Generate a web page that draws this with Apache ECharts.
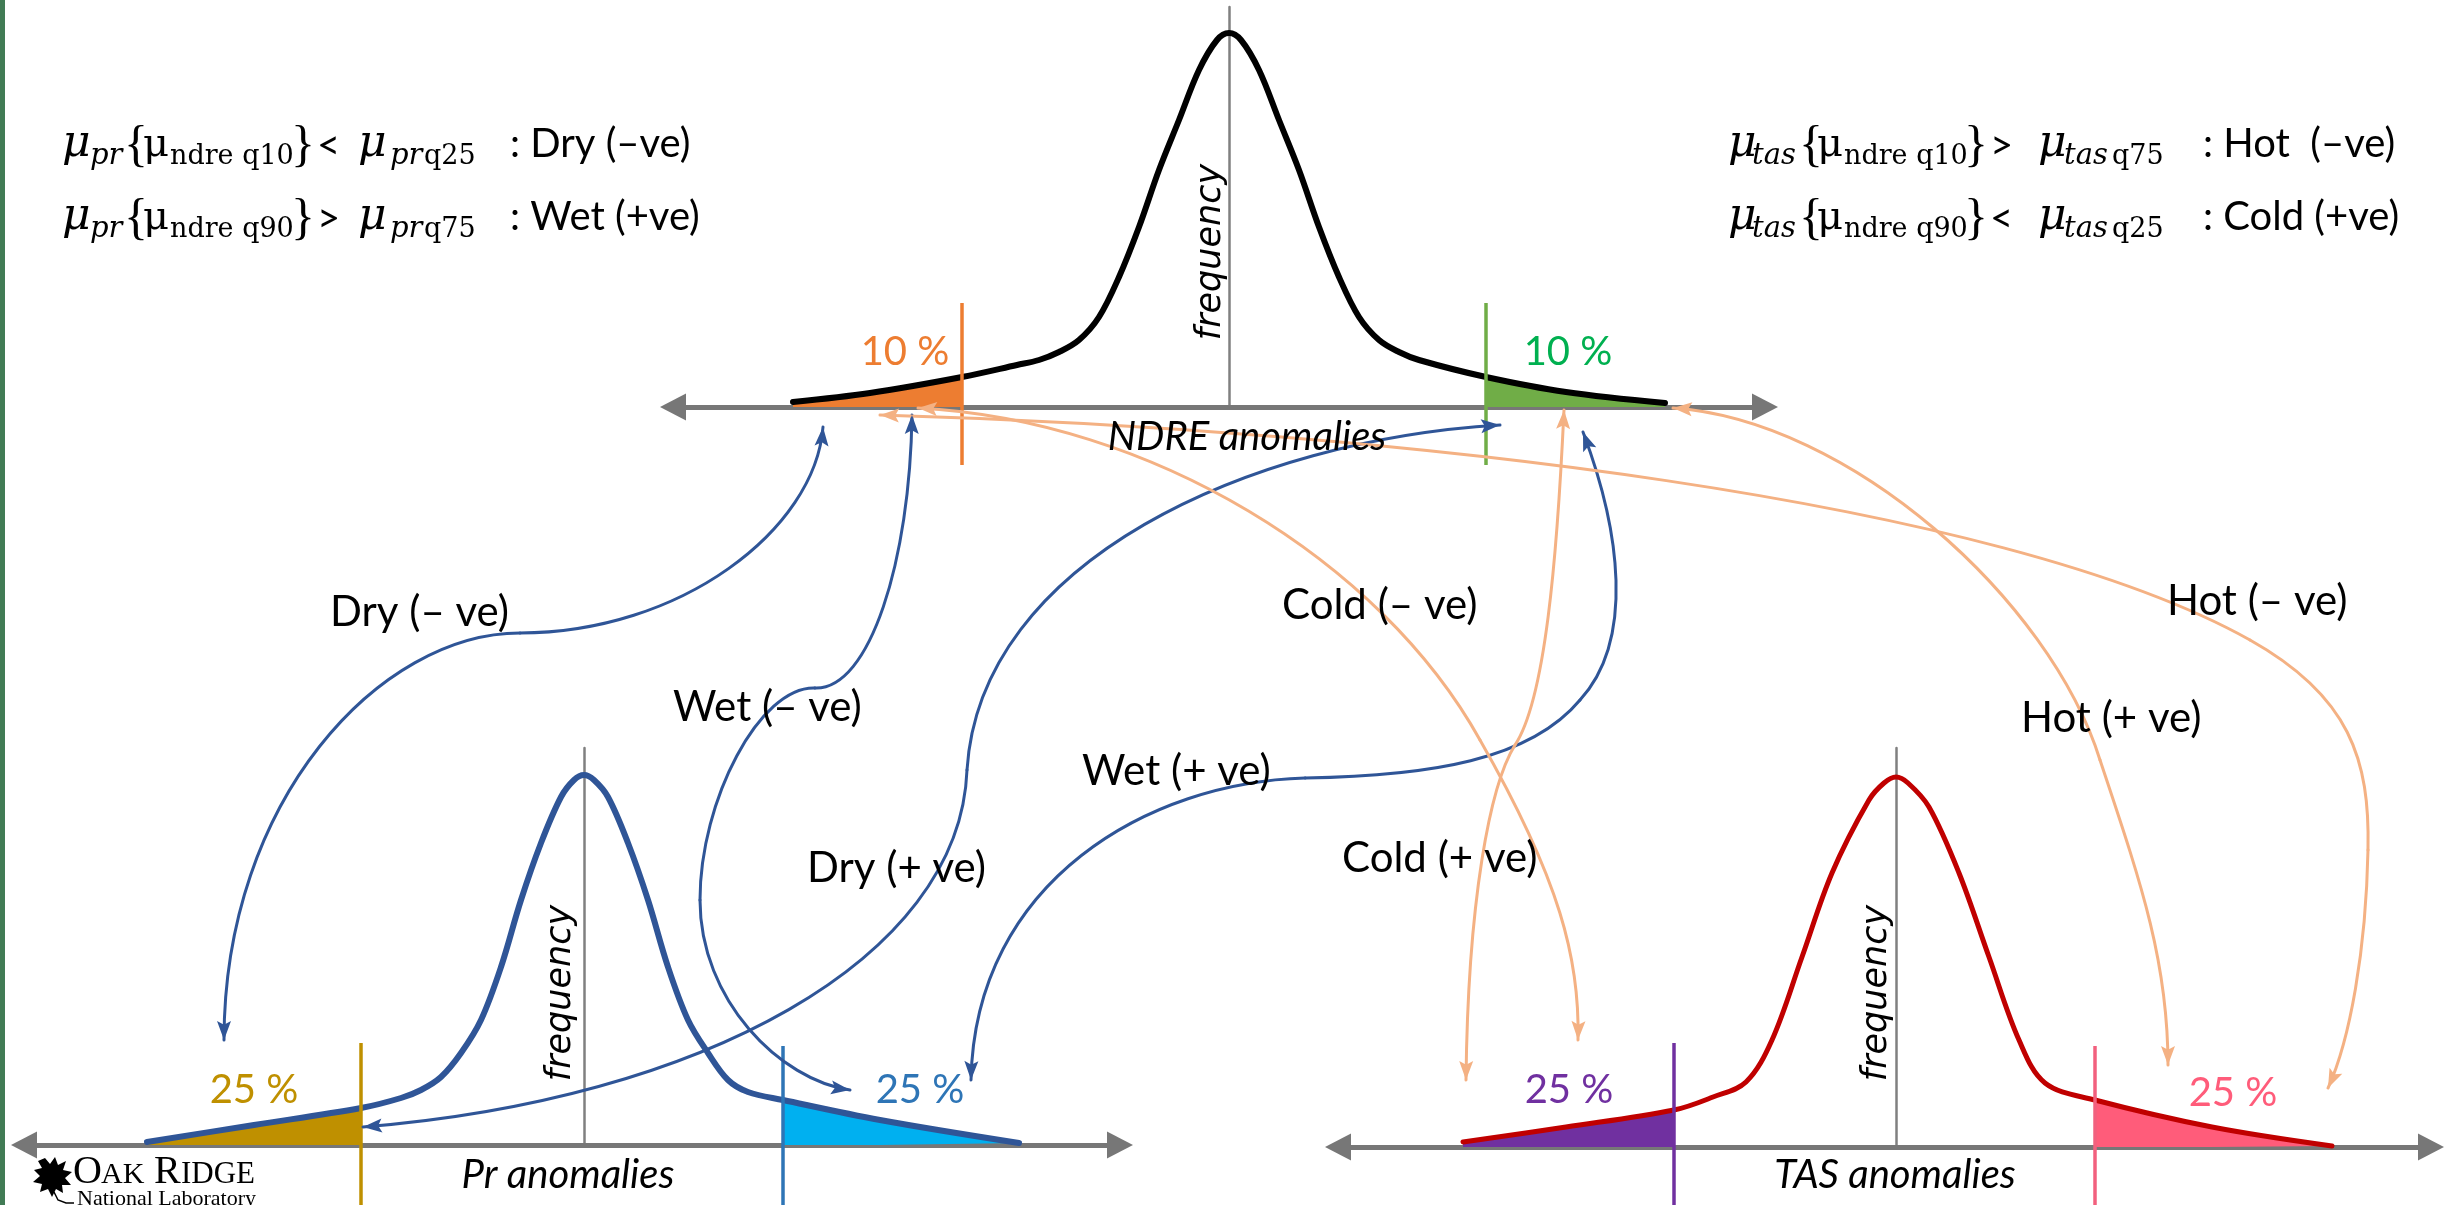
<!DOCTYPE html>
<html><head><meta charset="utf-8">
<script src="https://cdn.jsdelivr.net/npm/echarts@6/dist/echarts.min.js"></script>
<style>html,body{margin:0;padding:0;background:#fff}#c{width:2450px;height:1205px}</style>
</head><body><div id="c"></div>
<script>
// ---------- data (anomaly units, frequency units) ----------
const ndreX = [-4.36,-3.59,-2.67,-2.12,-1.90,-1.70,-1.50,-1.30,-1.10,-0.90,-0.70,-0.50,-0.30,-0.12,0,0.12,0.30,0.50,0.70,0.90,1.10,1.30,1.50,1.70,1.90,2.57,3.37,4.36];
const ndreY = [0.05,0.14,0.30,0.42,0.47,0.55,0.67,0.90,1.30,1.80,2.37,2.87,3.37,3.67,3.74,3.67,3.37,2.87,2.37,1.80,1.30,0.90,0.67,0.55,0.47,0.30,0.15,0.04];
const ndreQ = [-2.67, 2.57];           // 10 % / 90 % cut points
const prX = [-4.37,-3.30,-2.23,-1.83,-1.63,-1.43,-1.23,-1.03,-0.83,-0.63,-0.43,-0.23,-0.10,0,0.10,0.24,0.44,0.64,0.84,1.04,1.24,1.44,1.64,1.99,2.96,4.35];
const prY = [0.03,0.20,0.37,0.47,0.55,0.68,0.92,1.25,1.78,2.45,3.02,3.48,3.65,3.70,3.65,3.48,3.02,2.45,1.78,1.25,0.92,0.65,0.53,0.45,0.25,0.02];
const prQ = [-2.23, 1.99];             // 25 % / 75 % cut points
const tasX = [-4.33,-3.30,-2.22,-1.83,-1.50,-1.24,-0.94,-0.64,-0.27,-0.12,0,0.12,0.33,0.63,0.93,1.23,1.49,1.99,3.16,4.36];
const tasY = [0.05,0.20,0.37,0.50,0.65,1.07,1.90,2.74,3.47,3.64,3.70,3.64,3.40,2.74,1.90,1.07,0.64,0.47,0.20,0.01];
const tasQ = [-2.22, 1.99];            // 25 % / 75 % cut points
const pctLabels = ['10 %','10 %','25 %','25 %','25 %','25 %'];
const axisTitles = ['NDRE anomalies','Pr anomalies','TAS anomalies'];
const freqLabel = 'frequency';
const linkLabels = ['Dry (– ve)','Wet (– ve)','Dry (+ ve)','Wet (+ ve)','Cold (– ve)','Cold (+ ve)','Hot (+ ve)','Hot (– ve)'];
const ruleLeft = [[': Dry (–ve)','q10','<','q25'],[': Wet (+ve)','q90','>','q75']];
const ruleRight = [[': Hot  (–ve)','q10','>','q75'],[': Cold (+ve)','q90','<','q25']];

// ---------- layout ----------
const U = 100;
const panels = [
  {xs:ndreX, ys:ndreY, q:ndreQ, cx:1229, ay:407, xmin:-5.56, xmax:5.36, ymax:4.0,
   curve:'#000000', cw:6, fill:['#ED7D31','#70AD47'], qc:['#ED7D31','#70AD47'], qext:[[-0.58,1.04],[-0.58,1.04]]},
  {xs:prX, ys:prY, q:prQ, cx:584, ay:1145, xmin:-5.6, xmax:5.36, ymax:3.97,
   curve:'#2F5597', cw:6, fill:['#BF9000','#00B0F0'], qc:['#BF9000','#2E75B6'], qext:[[-0.62,1.02],[-0.62,0.99]]},
  {xs:tasX, ys:tasY, q:tasQ, cx:1896, ay:1147, xmin:-5.58, xmax:5.35, ymax:3.99,
   curve:'#C00000', cw:5, fill:['#7030A0','#FF5C7A'], qc:['#7030A0','#F2607E'], qext:[[-0.6,1.04],[-0.6,1.01]]}
];

const grids = [], xAxes = [], yAxes = [], series = [];
panels.forEach((p, i) => {
  grids.push({left: p.cx + p.xmin*U, top: p.ay - p.ymax*U, width: (p.xmax-p.xmin)*U, height: p.ymax*U, outerBoundsMode:'none', containLabel:false});
  xAxes.push({gridIndex:i, type:'value', min:p.xmin, max:p.xmax, splitLine:{show:false}, axisTick:{show:false}, axisLabel:{show:false},
    axisLine:{show:true, onZero:true, symbol:['triangle','triangle'], symbolSize:[27,26], lineStyle:{color:'#777777', width:5}}});
  yAxes.push({gridIndex:i, type:'value', min:0, max:p.ymax, splitLine:{show:false}, axisTick:{show:false}, axisLabel:{show:false},
    axisLine:{show:true, onZero:true, lineStyle:{color:'#808080', width:2.5}}});
  const pts = p.xs.map((x, k) => [x, p.ys[k]]);
  const common = {type:'line', xAxisIndex:i, yAxisIndex:i, symbol:'none', smooth:0.35, silent:true};
  series.push(Object.assign({}, common, {data: pts.filter(d => d[0] <= p.q[0]), lineStyle:{width:0}, areaStyle:{color:p.fill[0], opacity:1}, z:2}));
  series.push(Object.assign({}, common, {data: pts.filter(d => d[0] >= p.q[1]), lineStyle:{width:0}, areaStyle:{color:p.fill[1], opacity:1}, z:2}));
  series.push(Object.assign({}, common, {data: pts, lineStyle:{color:p.curve, width:p.cw, cap:'round', join:'round'}, z:3}));
  p.q.forEach((qv, j) => {
    series.push({type:'line', xAxisIndex:i, yAxisIndex:i, symbol:'none', silent:true, clip:false, z:4,
      data:[[qv, p.qext[j][0]], [qv, p.qext[j][1]]], lineStyle:{color:p.qc[j], width:3.5}});
  });
});

// ---------- annotations ----------
const g = [];
g.push({type:'rect', shape:{x:0, y:0, width:5, height:1205}, style:{fill:'#417B55'}, z:100});
function txt(x, y, text, font, fill, align, extra) {
  return Object.assign({type:'text', x:x, y:y, z:60, silent:true,
    style:{text:text, font:font, fill:fill, textAlign:align||'left', textVerticalAlign:'middle'}}, extra||{});
}
// percentages
const pctPos = [[905,352,'#ED7D31'],[1568,352,'#00B050'],[254,1090,'#BF9000'],[920,1090,'#2E75B6'],[1569,1090,'#7030A0'],[2233,1093,'#FF5C7A']];
pctLabels.forEach((t, i) => g.push(txt(pctPos[i][0], pctPos[i][1], t, '40px Lato', pctPos[i][2], 'center')));
// axis titles
const titlePos = [[1247,437],[568,1175],[1895,1175]];
axisTitles.forEach((t, i) => g.push(txt(titlePos[i][0], titlePos[i][1], t, 'italic 40px Lato', '#000', 'center')));
const freqPos = [[1211,252],[561,993],[1877,993]];
freqPos.forEach(p => g.push(txt(p[0], p[1], freqLabel, 'italic 35px "DejaVu Sans"', '#000', 'center', {rotation: Math.PI/2})));
// link labels
const linkPos = [[330,612],[673,707],[807,868],[1082,771],[1282,605],[1342,858],[2021,718],[2167,601]];
linkLabels.forEach((t, i) => g.push(txt(linkPos[i][0], linkPos[i][1], t, '42px Lato', '#000', 'left')));

// formulas
const SER = '"DejaVu Serif"', LSR = '"Liberation Serif"';
function rule(xs, base, sym, parts) {
  const mid = (b, s) => b - 0.3*s;
  const sb = base + 7;
  g.push(txt(xs[0], mid(base,44), 'μ', 'italic 44px '+SER, '#000'));
  g.push(txt(xs[1], mid(sb,29), sym, 'italic 29px '+SER, '#000'));
  g.push(txt(xs[2], mid(base,50)+4, '{', '50px '+LSR, '#000'));
  g.push(txt(xs[3], mid(base,40), 'μ', '40px '+SER, '#000'));
  g.push(txt(xs[4], mid(sb,27), 'ndre '+parts[1], '27px '+SER, '#000'));
  g.push(txt(xs[5], mid(base,50)+4, '}', '50px '+LSR, '#000'));
  g.push(txt(xs[6], mid(base,40), parts[2], '40px Lato', '#000'));
  g.push(txt(xs[7], mid(base,44), 'μ', 'italic 44px '+SER, '#000'));
  g.push(txt(xs[8], mid(sb,29), sym, 'italic 29px '+SER, '#000'));
  g.push(txt(xs[9], mid(sb,27), parts[3], '27px '+SER, '#000'));
  g.push(txt(xs[10], base-14, parts[0], '40px Lato', '#000'));
}
const xl = [62,90,124,143,170,291,317,358,390,424,510];
const xr = [1728,1752,1799,1817,1844,1964,1990,2038,2064,2112,2203];
ruleLeft.forEach((r, i) => rule(xl, 158 + i*73, 'pr', r));
ruleRight.forEach((r, i) => rule(xr, 158 + i*73, 'tas', r));

// connectors (two-headed curved arrows)
const BLUE = '#2F5597', ORANGE = '#F4B183';
const links = [
  {c:BLUE, s:[[823,427,815,530,680,633,520,633],[520,633,380,633,224,800,224,1040]]},
  {c:BLUE, s:[[912,415,910,560,870,690,815,688],[815,688,760,686,700,800,700,900],[700,900,700,1000,780,1080,850,1090]]},
  {c:BLUE, s:[[1500,425,1250,440,980,560,967,770],[967,770,960,960,700,1100,363,1127]]},
  {c:BLUE, s:[[1583,432,1620,530,1635,640,1580,700],[1580,700,1530,760,1430,776,1305,778],[1305,778,1150,782,975,880,971,1080]]},
  {c:ORANGE, s:[[918,408,1150,420,1380,560,1480,740],[1480,740,1560,880,1580,960,1578,1040]]},
  {c:ORANGE, s:[[1564,410,1557,560,1545,700,1515,745],[1515,745,1490,785,1468,900,1466,1080]]},
  {c:ORANGE, s:[[1673,408,1850,420,2050,600,2100,760],[2100,760,2140,880,2168,960,2168,1065]]},
  {c:ORANGE, s:[[880,415,1400,430,2000,500,2250,640],[2250,640,2350,696,2370,760,2368,850],[2368,850,2366,950,2350,1040,2328,1088]]}
];
function head(tx, ty, fx, fy, color) {
  let dx = tx-fx, dy = ty-fy; const L = Math.hypot(dx, dy); dx/=L; dy/=L;
  const nx = -dy, ny = dx, len = 19, w = 7;
  const bx = tx - dx*len, by = ty - dy*len;
  return {type:'polygon', z:56, silent:true, shape:{points:[[tx,ty],[bx+nx*w,by+ny*w],[tx-dx*len*0.8,ty-dy*len*0.8],[bx-nx*w,by-ny*w]]}, style:{fill:color}};
}
links.forEach(l => {
  l.s.forEach(s => g.push({type:'bezierCurve', z:55, silent:true,
    shape:{x1:s[0],y1:s[1],cpx1:s[2],cpy1:s[3],cpx2:s[4],cpy2:s[5],x2:s[6],y2:s[7]},
    style:{stroke:l.c, lineWidth:3, fill:null, lineCap:'round'}}));
  const a = l.s[0], b = l.s[l.s.length-1];
  g.push(head(a[0], a[1], a[2], a[3], l.c));
  g.push(head(b[6], b[7], b[4], b[5], l.c));
});

// logo
g.push({type:'polygon', z:60, silent:true, style:{fill:'#000'}, shape:{points:[[45,1158],[50,1164],[55,1157],[58,1165],[66,1161],[63,1170],[72,1172],[65,1178],[71,1185],[62,1185],[63,1193],[56,1189],[52,1197],[48,1189],[40,1192],[42,1184],[33,1182],[40,1176],[34,1170],[42,1168],[38,1161]]}});
g.push({type:'polyline', z:60, silent:true, style:{stroke:'#000', lineWidth:1.5, fill:null}, shape:{points:[[54,1192],[58,1200],[66,1203],[74,1203]]}});
g.push(txt(73, 1184-0.3*40, 'O', '40px '+LSR, '#000'));
g.push(txt(101, 1184-0.3*30, 'AK', '30px '+LSR, '#000'));
g.push(txt(154, 1184-0.3*40, 'R', '40px '+LSR, '#000'));
g.push(txt(181, 1184-0.3*31, 'IDGE', '31px '+LSR, '#000'));
g.push(txt(77, 1206-0.3*22, 'National Laboratory', '22px '+LSR, '#000'));

const chart = echarts.init(document.getElementById('c'));
chart.setOption({
  animation:false, backgroundColor:'#ffffff',
  grid:grids, xAxis:xAxes, yAxis:yAxes, series:series, graphic:{elements:g}
});
</script></body></html>
